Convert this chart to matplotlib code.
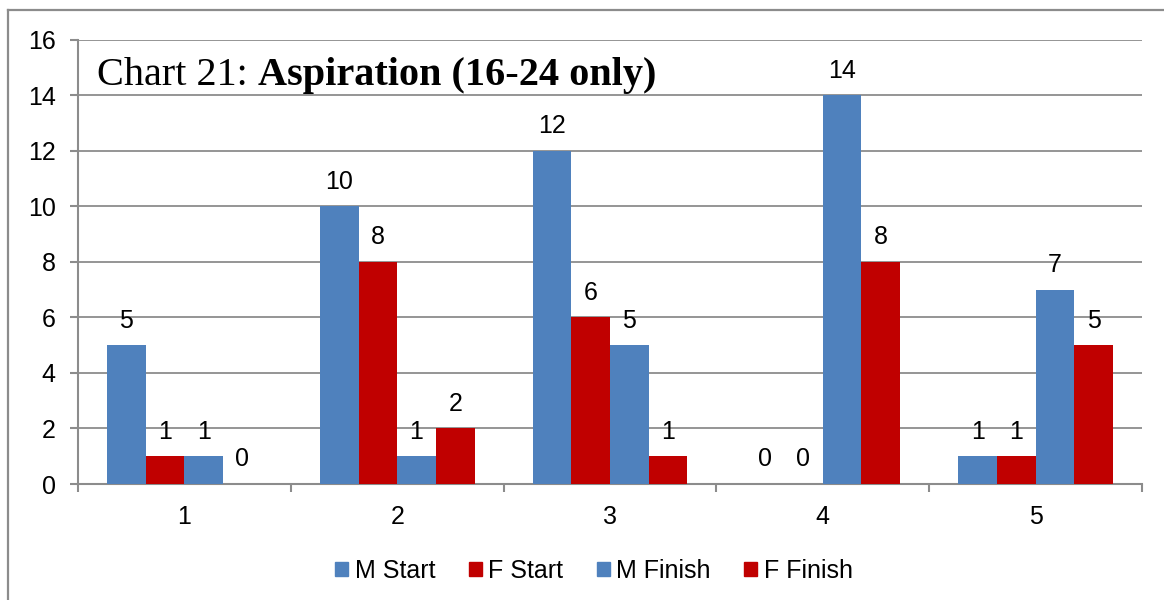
import matplotlib
matplotlib.use("Agg")
import matplotlib.pyplot as plt
from matplotlib.patches import Rectangle
from matplotlib.lines import Line2D
import numpy as np

categories = ["1", "2", "3", "4", "5"]
series_names = ["M Start", "F Start", "M Finish", "F Finish"]
m_start = [5, 10, 12, 0, 1]
f_start = [1, 8, 6, 0, 1]
m_finish = [1, 1, 5, 14, 7]
f_finish = [0, 2, 1, 8, 5]
series_values = [m_start, f_start, m_finish, f_finish]

BLUE = "#4F81BD"
RED = "#C00000"
series_colors = [BLUE, RED, BLUE, RED]
GRID = "#8C8C8C"

W, H = 1164, 600
fig = plt.figure(figsize=(W / 100, H / 100), dpi=100)
fig.patch.set_facecolor("white")

# chart frame (left and top edges visible)
fig.add_artist(Line2D([8 / W, 8 / W], [0, 1 - 10 / H], transform=fig.transFigure,
                      color=GRID, lw=1.6))
fig.add_artist(Line2D([8 / W, 1], [1 - 10 / H, 1 - 10 / H], transform=fig.transFigure,
                      color=GRID, lw=1.6))

left, right, top, bottom = 78, 1142, 39.5, 484
ax = fig.add_axes([left / W, (H - bottom) / H, (right - left) / W, (bottom - top) / H])

n_series = len(series_values)
gap = 1.5
bw = 1.0 / (n_series + gap)
x = np.arange(len(categories))

label_font = dict(family="Liberation Sans", size=18)
for i, (vals, col) in enumerate(zip(series_values, series_colors)):
    offs = (i - (n_series - 1) / 2) * bw
    bars = ax.bar(x + offs, vals, width=bw, color=col, edgecolor="none", zorder=3)
    for rect, v in zip(bars, vals):
        ax.annotate(f"{v}", (rect.get_x() + rect.get_width() / 2, v),
                    xytext=(0, 9), textcoords="offset points",
                    ha="center", va="bottom", **label_font, zorder=4)

ax.set_xlim(-0.5, len(categories) - 0.5)
ax.set_ylim(0, 16)
ax.set_yticks(range(0, 17, 2))
ax.yaxis.grid(True, color=GRID, lw=1.3, zorder=0)
ax.set_axisbelow(True)

ax.set_xticks(np.arange(-0.5, len(categories), 1.0))
ax.set_xticklabels([])
ax.set_xticks(x, minor=True)
ax.set_xticklabels(categories, minor=True, **label_font)
ax.tick_params(axis="x", which="major", length=6, width=1.5, color=GRID, direction="out")
ax.tick_params(axis="x", which="minor", length=0, pad=15)
ax.tick_params(axis="y", length=6, width=1.5, color=GRID, direction="out", pad=10)
for lab in ax.get_yticklabels():
    lab.set_fontfamily("Liberation Sans")
    lab.set_fontsize(18)

for s in ["top", "right"]:
    ax.spines[s].set_visible(False)
for s in ["left", "bottom"]:
    ax.spines[s].set_color(GRID)
    ax.spines[s].set_linewidth(1.5)

# title inside the plot area: regular prefix followed by bold text
renderer = fig.canvas.get_renderer()
t1 = fig.text(97 / W, 1 - 85 / H, "Chart 21: ", family="Liberation Serif", size=29,
              ha="left", va="baseline")
bb = t1.get_window_extent(renderer)
fig.text(bb.x1 / W, 1 - 85 / H, "Aspiration (16-24 only)", family="Liberation Serif",
         size=29, weight="bold", ha="left", va="baseline")

handles = [Rectangle((0, 0), 1, 1, color=c) for c in series_colors]
fig.legend(handles, series_names, loc="center", bbox_to_anchor=(594 / W, 1 - 571 / H),
           ncol=4, frameon=False, prop=dict(family="Liberation Sans", size=18),
           handlelength=0.52, handleheight=0.52, handletextpad=0.25, columnspacing=1.35)

fig.savefig("out.png", dpi=100, facecolor="white")
